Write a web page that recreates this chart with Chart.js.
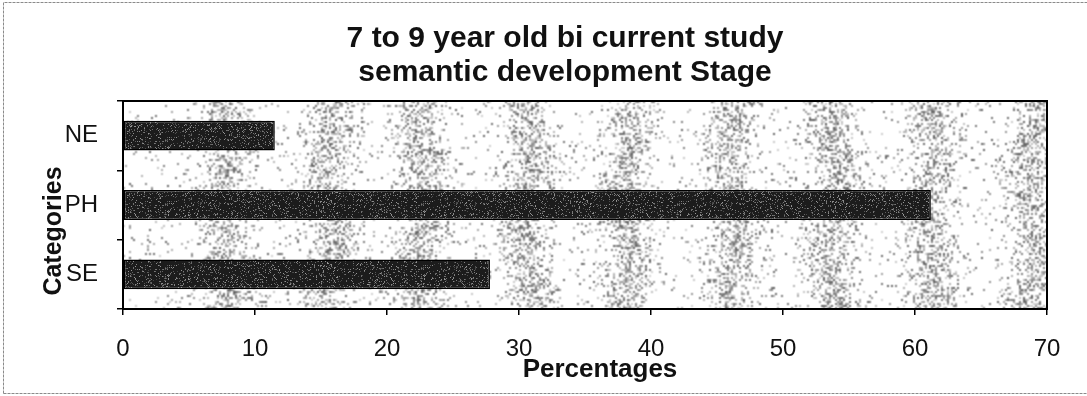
<!DOCTYPE html>
<html>
<head>
<meta charset="utf-8">
<script src="https://cdn.jsdelivr.net/npm/chart.js@4.4.1/dist/chart.umd.min.js"></script>
<style>
  html, body { margin: 0; padding: 0; background: #fff; }
  #wrap { width: 1087px; height: 396px; }
</style>
</head>
<body>
<div id="wrap"><canvas id="c" width="1087" height="396"></canvas></div>
<script>
// ---- chart data ----
const titleLines = ['7 to 9 year old bi current study', 'semantic development Stage'];
const categories = ['NE', 'PH', 'SE'];
const percentages = [11.5, 61.2, 27.8];
const xTickValues = [0, 10, 20, 30, 40, 50, 60, 70];
const xAxisTitle = 'Percentages';
const yAxisTitle = 'Categories';

// ---- styling helpers ----
const FONT = '"Liberation Sans", Arial, sans-serif';
const INK = '#111';

// deterministic per-pixel hash used for the printed-screen speckle
function hash(x, y, s) {
  let h = (x * 374761393 + y * 668265263 + s * 982451653) | 0;
  h = Math.imul(h ^ (h >>> 13), 1274126177);
  h = h ^ (h >>> 16);
  return (h >>> 0) / 4294967296;
}

// dark speckled fill for the bars
function makeBarPattern() {
  const w = 256, h = 64;
  const cv = document.createElement('canvas');
  cv.width = w; cv.height = h;
  const g = cv.getContext('2d');
  const img = g.createImageData(w, h);
  for (let y = 0; y < h; y++) {
    for (let x = 0; x < w; x++) {
      const i = (y * w + x) * 4;
      let v = 28;
      const r = hash(x, y, 7);
      if (r < 0.16) v = 65 + Math.floor(hash(x, y, 11) * 90);
      img.data[i] = img.data[i + 1] = img.data[i + 2] = v;
      img.data[i + 3] = 255;
    }
  }
  g.putImageData(img, 0, 0);
  return g.createPattern(cv, 'repeat');
}

// faint vertical dotted bands behind the bars
let plotTexture = null;
function buildPlotTexture(w, h) {
  const sw = Math.ceil(w / 2), sh = Math.ceil(h / 2);
  const cv = document.createElement('canvas');
  cv.width = sw; cv.height = sh;
  const g = cv.getContext('2d');
  const img = g.createImageData(sw, sh);
  const bandFractions = [0.11, 0.222, 0.324, 0.437, 0.543, 0.66, 0.77, 0.874, 0.984];
  for (let y = 0; y < sh; y++) {
    for (let x = 0; x < sw; x++) {
      let band = 0;
      for (let k = 0; k < bandFractions.length; k++) {
        const c = bandFractions[k] * sw + 3 * Math.sin(y / 11 + k * 1.7);
        const d = (x - c) / 10;
        band += Math.exp(-d * d);
      }
      const density = 0.045 + 0.42 * band;
      const i = (y * sw + x) * 4;
      let v = 255;
      if (hash(x, y, 3) < density) v = 95 + Math.floor(hash(x, y, 5) * 115);
      img.data[i] = img.data[i + 1] = img.data[i + 2] = v;
      img.data[i + 3] = 255;
    }
  }
  g.putImageData(img, 0, 0);
  return cv;
}

const decorPlugin = {
  id: 'decor',
  beforeDraw(chart) {
    const ctx = chart.ctx;
    ctx.save();
    ctx.fillStyle = '#fff';
    ctx.fillRect(0, 0, chart.width, chart.height);
    // outer picture frame
    ctx.strokeStyle = '#8a8a8a';
    ctx.lineWidth = 1;
    ctx.setLineDash([3, 1]);
    ctx.beginPath();
    ctx.moveTo(3.5, 393.5); ctx.lineTo(3.5, 2.5); ctx.lineTo(1087, 2.5);
    ctx.moveTo(3.5, 393.5); ctx.lineTo(1087, 393.5);
    ctx.stroke();
    ctx.restore();
  },
  beforeDatasetsDraw(chart) {
    const a = chart.chartArea;
    const ctx = chart.ctx;
    if (!plotTexture) plotTexture = buildPlotTexture(a.right - a.left, a.bottom - a.top);
    ctx.save();
    ctx.imageSmoothingEnabled = true;
    ctx.drawImage(plotTexture, a.left, a.top, a.right - a.left, a.bottom - a.top);
    ctx.restore();
  },
  afterDatasetsDraw(chart) {
    const a = chart.chartArea;
    const ctx = chart.ctx;
    ctx.save();
    ctx.strokeStyle = '#000';
    ctx.lineWidth = 2;
    ctx.strokeRect(a.left, a.top, a.right - a.left, a.bottom - a.top);
    ctx.restore();
  },
  afterDraw(chart) {
    const ctx = chart.ctx;
    ctx.save();
    ctx.fillStyle = INK;
    ctx.textAlign = 'center';
    ctx.textBaseline = 'alphabetic';
    // chart title
    ctx.font = 'bold 30px ' + FONT;
    ctx.fillText(titleLines[0], 565, 47);
    ctx.fillText(titleLines[1], 565, 81);
    // x axis title
    ctx.font = 'bold 26px ' + FONT;
    ctx.fillText(xAxisTitle, 600, 377);
    // y axis title (rotated)
    ctx.translate(61, 231);
    ctx.rotate(-Math.PI / 2);
    ctx.font = 'bold 25px ' + FONT;
    ctx.fillText(yAxisTitle, 0, 0);
    ctx.restore();
  }
};

new Chart(document.getElementById('c'), {
  type: 'bar',
  data: {
    labels: categories,
    datasets: [{
      data: percentages,
      backgroundColor: makeBarPattern(),
      borderColor: '#000',
      borderWidth: 1.5,
      borderSkipped: false,
      barPercentage: 0.43,
      categoryPercentage: 1.0
    }]
  },
  options: {
    indexAxis: 'y',
    responsive: false,
    animation: false,
    devicePixelRatio: 1,
    layout: { padding: { top: 101, right: 40, left: 0, bottom: 0 } },
    plugins: {
      legend: { display: false },
      title: { display: false },
      tooltip: { enabled: false }
    },
    scales: {
      x: {
        type: 'linear',
        min: 0,
        max: 70,
        afterBuildTicks(scale) {
          scale.ticks = xTickValues.map(v => ({ value: v }));
        },
        afterFit(scale) { scale.height = 87; },
        grid: { display: true, drawOnChartArea: false, drawTicks: true, tickLength: 6, color: '#000', lineWidth: 1.5 },
        border: { display: true, color: '#000', width: 2 },
        ticks: {
          color: INK,
          font: { family: FONT, size: 24 },
          padding: 20,
          maxRotation: 0
        }
      },
      y: {
        type: 'category',
        afterFit(scale) { scale.width = 123; },
        grid: { display: true, offset: true, drawOnChartArea: false, drawTicks: true, tickLength: 6, color: '#000', lineWidth: 1.5 },
        border: { display: true, color: '#000', width: 2 },
        ticks: {
          color: INK,
          font: { family: FONT, size: 24 },
          padding: 19
        }
      }
    }
  },
  plugins: [decorPlugin]
});
</script>
</body>
</html>
